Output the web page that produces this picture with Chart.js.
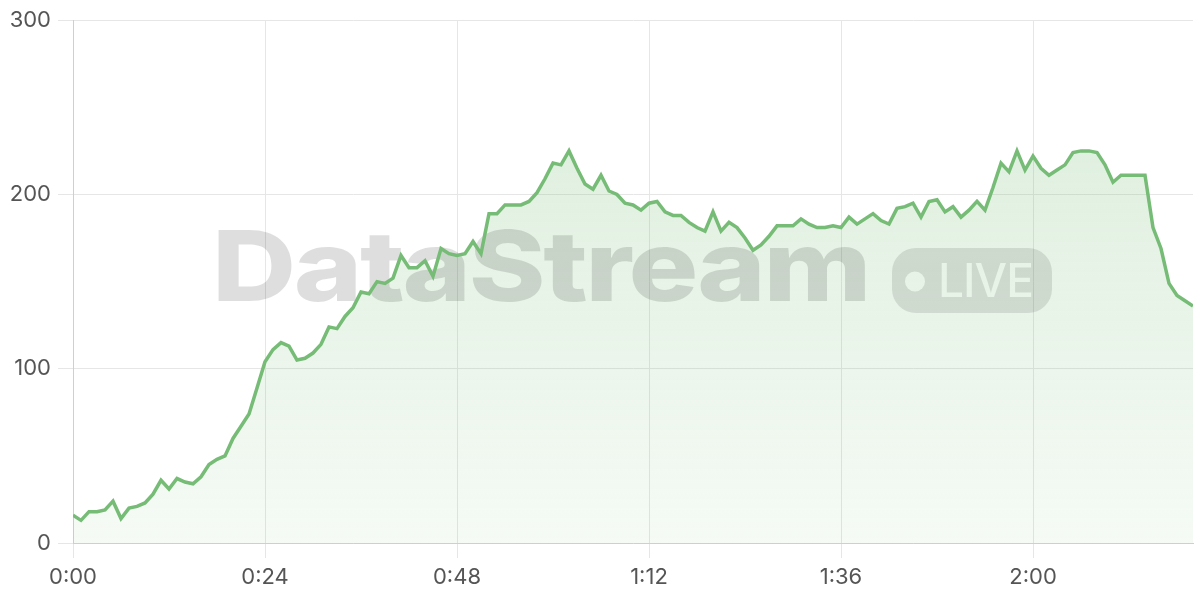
<!DOCTYPE html>
<html>
<head>
<meta charset="utf-8">
<script src="https://cdn.jsdelivr.net/npm/chart.js@4.4.1/dist/chart.umd.min.js"></script>
<style>
  html, body { margin: 0; padding: 0; background: #fff; }
  #wrap { width: 1200px; height: 600px; }
</style>
</head>
<body>
<div id="wrap"><canvas id="chart" width="1200" height="600"></canvas></div>
<script>
// one reading per second, 0:00 .. 2:20
var viewers = [16, 13, 18, 18, 19, 24, 14, 20, 21, 23,
  28, 36, 31, 37, 35, 34, 38, 45, 48, 50,
  60, 67, 74, 89, 104, 111, 115, 113, 105, 106,
  109, 114, 124, 123, 130, 135, 144, 143, 150, 149,
  152, 165, 158, 158, 162, 153, 169, 166, 165, 166,
  173, 166, 189, 189, 194, 194, 194, 196, 201, 209,
  218, 217, 225, 215, 206, 203, 211, 202, 200, 195,
  194, 191, 195, 196, 190, 188, 188, 184, 181, 179,
  190, 179, 184, 181, 175, 168, 171, 176, 182, 182,
  182, 186, 183, 181, 181, 182, 181, 187, 183, 186,
  189, 185, 183, 192, 193, 195, 187, 196, 197, 190,
  193, 187, 191, 196, 191, 204, 218, 213, 225, 214,
  222, 215, 211, 214, 217, 224, 225, 225, 224, 217,
  207, 211, 211, 211, 211, 181, 169, 149, 142, 139, 136];

var seconds = viewers.map(function(v, i){ return i; });
var xStep = 24;
var yTicks = [0, 100, 200, 300];

var lineColor = 'rgb(118, 188, 118)';
var tickFont = { family: 'Inter, "Noto Sans", sans-serif', size: 22 };

function fmtTime(s){
  var m = Math.floor(s / 60), r = s % 60;
  return m + ':' + (r < 10 ? '0' : '') + r;
}

// watermark, drawn after the fill and before the line
var watermark = {
  id: 'watermark',
  beforeDatasetDraw: function(chart){
    var ctx = chart.ctx;
    ctx.save();
    ctx.fillStyle = 'rgba(0,0,0,0.13)';
    ctx.font = '800 98px Inter, "Noto Sans", sans-serif';
    ctx.textBaseline = 'alphabetic';
    ctx.letterSpacing = '-2px';
    var w = ctx.measureText('DataStream').width;
    var sx = 657 / w;
    ctx.translate(212, 301);
    ctx.scale(sx, 1);
    ctx.fillText('DataStream', 0, 0);
    ctx.restore();

    // pill with knocked-out text
    var off = document.createElement('canvas');
    off.width = 1200; off.height = 600;
    var o = off.getContext('2d');
    o.fillStyle = '#000';
    o.beginPath();
    o.roundRect(892, 248, 160, 65, 24);
    o.fill();
    o.globalCompositeOperation = 'destination-out';
    o.beginPath();
    o.arc(915, 281.5, 10, 0, Math.PI * 2);
    o.fill();
    o.font = '500 46px Inter, "Noto Sans", sans-serif';
    o.textBaseline = 'alphabetic';
    var lw = o.measureText('LIVE').width;
    o.letterSpacing = ((95 - lw) / 4).toFixed(2) + 'px';
    o.fillText('LIVE', 938, 297);
    ctx.save();
    ctx.globalAlpha = 0.1;
    ctx.drawImage(off, 0, 0);
    ctx.restore();
  }
};

var ctx = document.getElementById('chart');
var myChart = new Chart(ctx, {
  type: 'line',
  data: {
    labels: seconds,
    datasets: [{
      data: viewers,
      borderColor: lineColor,
      borderWidth: 3.5,
      pointRadius: 0,
      tension: 0,
      fill: 'origin',
      backgroundColor: function(c){
        var area = c.chart.chartArea;
        if(!area) return 'rgba(118,188,118,0.2)';
        var g = c.chart.ctx.createLinearGradient(0, area.top, 0, area.bottom);
        g.addColorStop(0, 'rgba(118,188,118,0.28)');
        g.addColorStop(1, 'rgba(118,188,118,0.07)');
        return g;
      }
    }]
  },
  options: {
    responsive: false,
    animation: false,
    layout: { padding: { top: 0, right: 7, left: 0, bottom: 0 } },
    plugins: { legend: { display: false }, tooltip: { enabled: false } },
    scales: {
      x: {
        type: 'linear',
        min: 0,
        max: seconds[seconds.length - 1],
        ticks: {
          stepSize: xStep,
          includeBounds: false,
          color: '#555',
          font: tickFont,
          padding: 6,
          maxRotation: 0,
          callback: function(v){ return fmtTime(v); }
        },
        grid: { color: '#e6e6e6', tickLength: 15, tickColor: '#e6e6e6' },
        border: { color: '#cfcfcf', width: 1 },
        afterFit: function(s){ s.height = 57; }
      },
      y: {
        min: yTicks[0],
        max: yTicks[yTicks.length - 1],
        ticks: {
          stepSize: 100,
          color: '#555',
          font: tickFont,
          padding: 7
        },
        grid: { color: '#e6e6e6', tickLength: 15, tickColor: '#e6e6e6' },
        border: { color: '#cfcfcf', width: 1 },
        afterFit: function(s){ s.width = 73; }
      }
    }
  },
  plugins: [watermark]
});
</script>
</body>
</html>
